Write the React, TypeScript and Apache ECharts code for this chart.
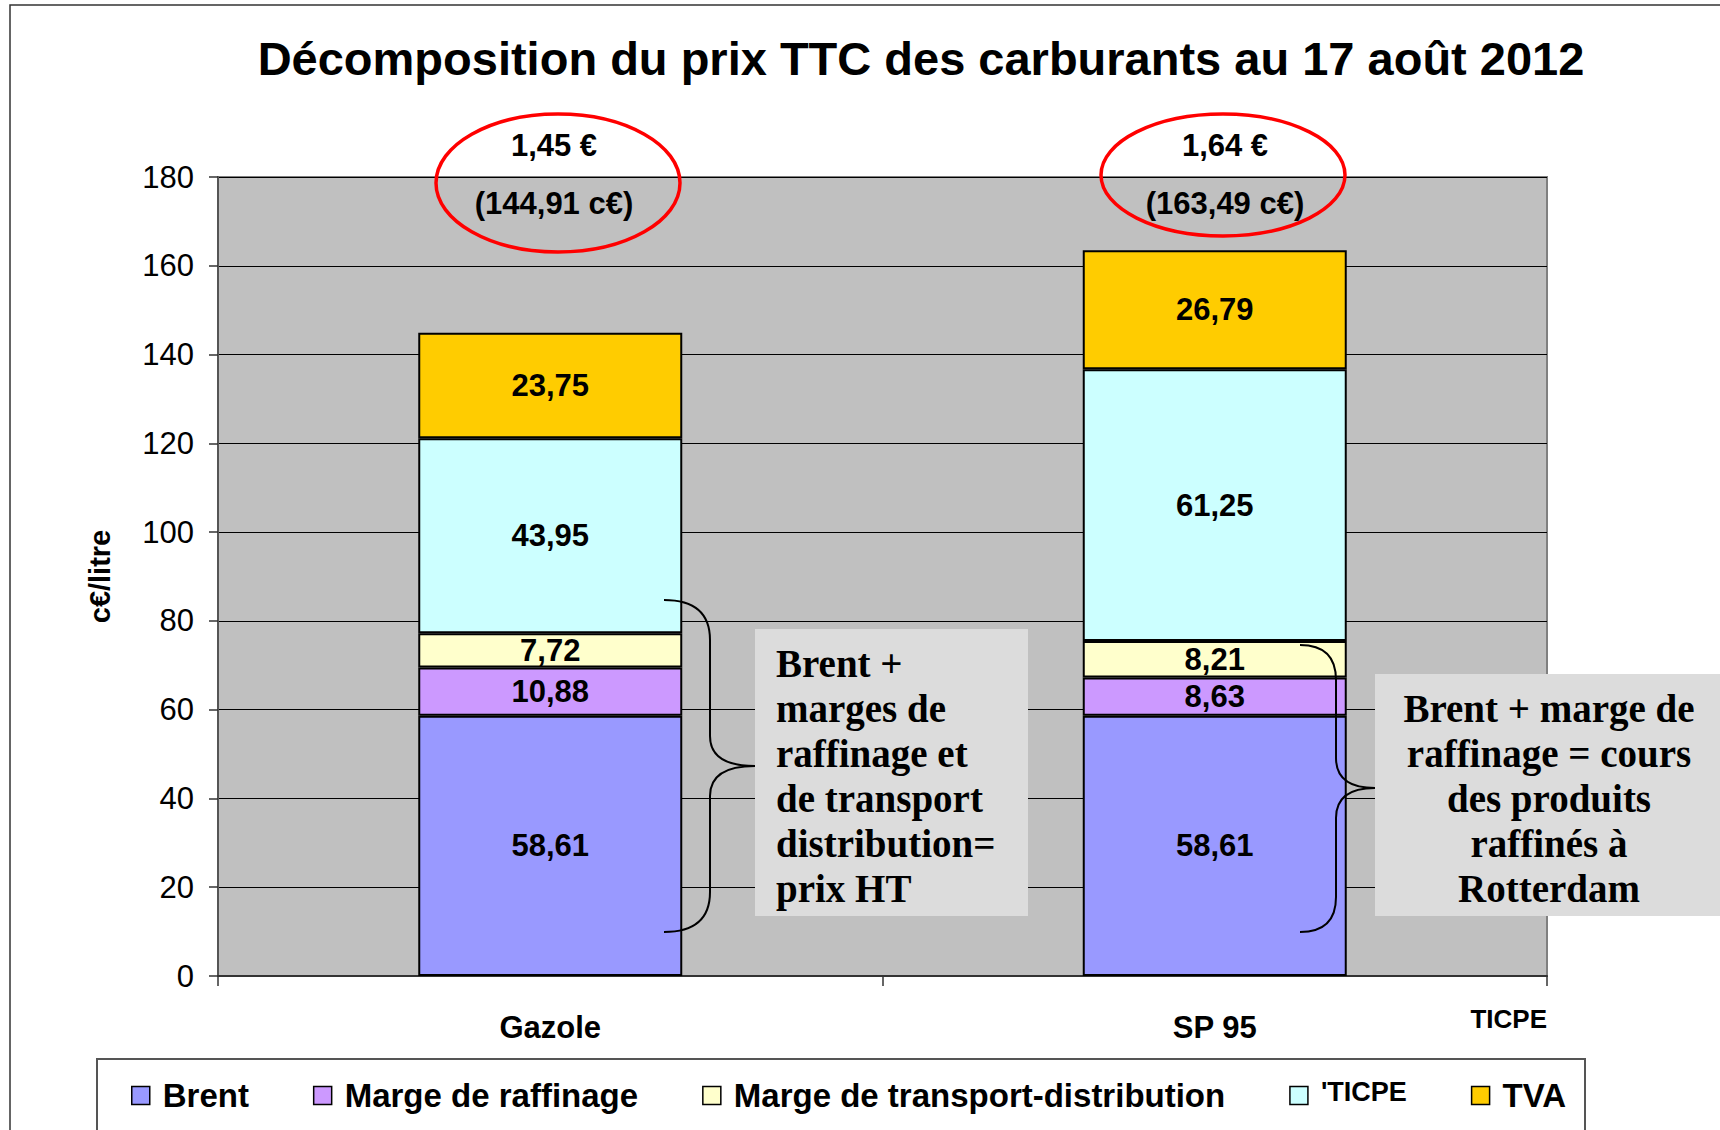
import React, { useEffect, useRef } from "react";
import * as echarts from "echarts";

const categories = ["Gazole", "SP 95"];
const seriesNames = ["Brent", "Marge de raffinage", "Marge de transport-distribution", "TICPE", "TVA"];
const brent = [58.61, 58.61];
const raffinage = [10.88, 8.63];
const transport = [7.72, 8.21];
const ticpe = [43.95, 61.25];
const tva = [23.75, 26.79];
const seriesColors = ["#9999FF", "#CC99FF", "#FFFFCC", "#CCFFFF", "#FFCC00"];
const totalsEuro = ["1,45 €", "1,64 €"];
const totalsCents = ["(144,91 c€)", "(163,49 c€)"];
const yMin = 0;
const yMax = 180;
const yInterval = 20;
const title = "Décomposition du prix TTC des carburants au 17 août 2012";
const yName = "c€/litre";
const leftNote = ["Brent +", "marges de", "raffinage et", "de transport", "distribution=", "prix HT"];
const rightNote = ["Brent + marge de", "raffinage = cours", "des produits", "raffinés à", "Rotterdam"];

echarts.graphic.registerShape(
  "braceGazole",
  echarts.graphic.extendPath(
    "M664 600 Q710 600 710 640 L710 736 Q710 766 755 766 Q710 766 710 796 L710 892 Q710 932 664 932",
    {}
  )
);
echarts.graphic.registerShape(
  "braceSP",
  echarts.graphic.extendPath(
    "M1300 645 Q1336 645 1336 680 L1336 758 Q1336 788 1375 788 Q1336 788 1336 818 L1336 897 Q1336 932 1300 932",
    {}
  )
);

const fmt = (v: number) => v.toFixed(2).replace(".", ",");

export default function App() {
  const ref = useRef<HTMLDivElement>(null);
  useEffect(() => {
    document.body.style.margin = "0";
    const chart = echarts.init(ref.current!, null, { renderer: "svg" });
    const data = [brent, raffinage, transport, ticpe, tva];
    const sans = "Liberation Sans, Arial, sans-serif";
    const serif = "Liberation Serif, Times New Roman, serif";
    const series = data.map((d, i) => ({
      name: seriesNames[i],
      type: "bar",
      stack: "total",
      barWidth: 264,
      data: d,
      itemStyle: { color: seriesColors[i], borderColor: "#000", borderWidth: 2 },
      label: {
        show: true,
        position: "inside",
        formatter: (p: any) => fmt(p.value),
        fontSize: 31,
        fontWeight: "bold",
        fontFamily: sans,
        color: "#000",
      },
    }));
    chart.setOption({
      animation: false,
      backgroundColor: "#fff",
      title: {
        text: title,
        left: 916,
        textAlign: "center",
        top: 30,
        textStyle: { fontSize: 47, fontWeight: "bold", fontFamily: sans, color: "#000" },
      },
      grid: {
        left: 218,
        right: 173,
        top: 177,
        bottom: 154,
        show: true,
        backgroundColor: "#C0C0C0",
        borderColor: "#808080",
        borderWidth: 2,
      },
      legend: {
        left: 126,
        top: 1073,
        itemWidth: 18,
        itemHeight: 18,
        itemGap: 64,
        icon: "rect",
        itemStyle: { borderColor: "#000", borderWidth: 1.5 },
        formatter: (name: string) => (name === "TICPE" ? "{s|'TICPE}" : name),
        textStyle: {
          fontSize: 33,
          fontWeight: "bold",
          fontFamily: sans,
          color: "#000",
          padding: [0, 0, 0, 8],
          rich: {
            s: { fontSize: 27, fontWeight: "bold", fontFamily: sans, color: "#000", padding: [0, 0, 8, 0] },
          },
        },
        data: seriesNames,
      },
      xAxis: {
        type: "category",
        data: categories,
        axisLine: { lineStyle: { color: "#333", width: 2 } },
        axisTick: { show: true, length: 10, alignWithLabel: false, lineStyle: { color: "#333", width: 1.5 } },
        axisLabel: { fontSize: 31, fontWeight: "bold", fontFamily: sans, color: "#000", margin: 36 },
      },
      yAxis: {
        type: "value",
        min: yMin,
        max: yMax,
        interval: yInterval,
        name: yName,
        nameLocation: "middle",
        nameRotate: 90,
        nameGap: 104,
        nameTextStyle: { fontSize: 29, fontWeight: "bold", fontFamily: sans, color: "#000" },
        axisLine: { show: true, lineStyle: { color: "#555", width: 2 } },
        axisTick: { show: true, length: 9, lineStyle: { color: "#333", width: 1.5 } },
        axisLabel: { fontSize: 31, fontFamily: sans, color: "#000", margin: 24 },
        splitLine: { lineStyle: { color: "#000", width: 1.2 } },
      },
      series,
      graphic: [
        {
          type: "rect",
          z: 0,
          shape: { x: 10, y: 5, width: 1800, height: 1300 },
          style: { fill: "transparent", stroke: "#333", lineWidth: 1.5 },
        },
        {
          type: "rect",
          z: 1,
          shape: { x: 97, y: 1059, width: 1488, height: 120 },
          style: { fill: "#fff", stroke: "#555", lineWidth: 2 },
        },
        {
          type: "text",
          z: 100,
          style: {
            text: "TICPE",
            x: 1547,
            y: 1019,
            align: "right",
            verticalAlign: "middle",
            fontSize: 26,
            fontWeight: "bold",
            fontFamily: sans,
            fill: "#000",
          },
        },
        {
          type: "rect",
          z: 50,
          shape: { x: 755, y: 629, width: 273, height: 287 },
          style: { fill: "#DCDCDC" },
        },
        {
          type: "rect",
          z: 50,
          shape: { x: 1375, y: 674, width: 360, height: 242 },
          style: { fill: "#DCDCDC" },
        },
        {
          type: "text",
          z: 60,
          style: {
            text: leftNote.join("\n"),
            x: 776,
            y: 640.5,
            align: "left",
            verticalAlign: "top",
            lineHeight: 45,
            fontSize: 39,
            fontWeight: "bold",
            fontFamily: serif,
            fill: "#000",
          },
        },
        {
          type: "text",
          z: 60,
          style: {
            text: rightNote.join("\n"),
            x: 1549,
            y: 685.5,
            align: "center",
            verticalAlign: "top",
            lineHeight: 45,
            fontSize: 39,
            fontWeight: "bold",
            fontFamily: serif,
            fill: "#000",
          },
        },
        {
          type: "braceGazole",
          z: 70,
          style: { fill: "transparent", stroke: "#000", lineWidth: 2 },
        },
        {
          type: "braceSP",
          z: 70,
          style: { fill: "transparent", stroke: "#000", lineWidth: 2 },
        },
        {
          type: "ellipse",
          z: 100,
          shape: { cx: 558, cy: 183, rx: 122, ry: 69 },
          style: { fill: "transparent", stroke: "#FF0000", lineWidth: 3.5 },
        },
        {
          type: "ellipse",
          z: 100,
          shape: { cx: 1223, cy: 175, rx: 122, ry: 61 },
          style: { fill: "transparent", stroke: "#FF0000", lineWidth: 3.5 },
        },
        ...[0, 1].flatMap((i) => {
          const cx = i === 0 ? 554 : 1225;
          return [
            {
              type: "text",
              z: 101,
              style: {
                text: totalsEuro[i],
                x: cx,
                y: 145,
                align: "center",
                verticalAlign: "middle",
                fontSize: 31,
                fontWeight: "bold",
                fontFamily: sans,
                fill: "#000",
              },
            },
            {
              type: "text",
              z: 101,
              style: {
                text: totalsCents[i],
                x: cx,
                y: 203,
                align: "center",
                verticalAlign: "middle",
                fontSize: 31,
                fontWeight: "bold",
                fontFamily: sans,
                fill: "#000",
              },
            },
          ];
        }),
      ],
    });
    return () => chart.dispose();
  }, []);
  return <div ref={ref} style={{ position: "absolute", left: 0, top: 0, width: 1720, height: 1130 }} />;
}
